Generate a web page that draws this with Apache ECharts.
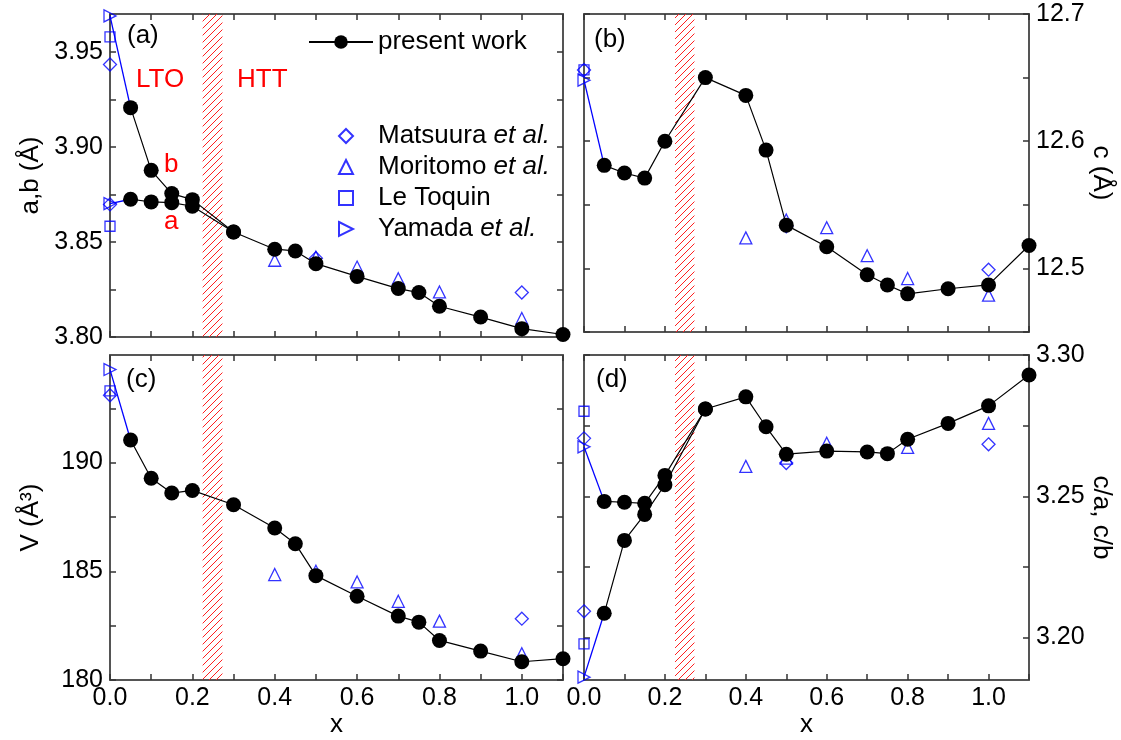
<!DOCTYPE html>
<html><head><meta charset="utf-8">
<script src="https://cdn.jsdelivr.net/npm/echarts@6/dist/echarts.min.js"></script>
<style>html,body{margin:0;padding:0;background:#fff}#c{width:1121px;height:740px}</style>
</head><body><div id="c"></div>
<script>
// ---------- data ----------
const xLTO = [0.05, 0.1, 0.15, 0.2];
const xHTT = [0.3, 0.4, 0.45, 0.5, 0.6, 0.7, 0.75, 0.8, 0.9, 1.0, 1.1];
const xAll = xLTO.concat(xHTT);

// (a) lattice parameters a, b (present work)
const bLTO = [3.9207, 3.8877, 3.8755, 3.8723];
const aLTO = [3.8725, 3.8711, 3.8707, 3.8688];
const abHTT = [3.8553, 3.8462, 3.8453, 3.8386, 3.8319, 3.8255, 3.8234, 3.8162, 3.8105, 3.8044, 3.8013];
// (b) lattice parameter c
const cAll = [12.581, 12.575, 12.571, 12.600, 12.650, 12.636, 12.593, 12.534, 12.517, 12.495, 12.487, 12.480, 12.484, 12.487, 12.518];
// (c) volume
const vAll = [191.04, 189.28, 188.60, 188.72, 188.06, 186.99, 186.27, 184.80, 183.85, 182.94, 182.66, 181.82, 181.33, 180.84, 180.98];
// (d) c/a, c/b
const cbLTO = [3.2482, 3.2479, 3.2475, 3.2574];
const caLTO = [3.2086, 3.2344, 3.2436, 3.2541];
const ratioHTT = [3.2809, 3.2852, 3.2746, 3.2649, 3.2660, 3.2657, 3.2651, 3.2702, 3.2758, 3.2820, 3.2929];

// literature
const matsX4 = [0, 0, 0.5, 1.0];
const matsX3 = [0, 0.5, 1.0];
const matsA = [3.9434, 3.8698, 3.8415, 3.8234];
const matsC = [12.656, 12.533, 12.499];
const matsV = [193.1, 184.8, 182.82];
const matsR = [3.2705, 3.2093, 3.2618, 3.2684];

const moriX = [0.4, 0.5, 0.6, 0.7, 0.8, 1.0];
const moriA = [3.8404, 3.8420, 3.8368, 3.8307, 3.8237, 3.8097];
const moriC = [12.524, 12.538, 12.532, 12.510, 12.492, 12.479];
const moriV = [184.85, 185.0, 184.51, 183.62, 182.71, 181.21];
const moriXd = [0.4, 0.5, 0.6, 0.8, 1.0];
const moriR = [3.2606, 3.2635, 3.2688, 3.2673, 3.2758];

const leToqX2 = [0, 0];
const leToqX1 = [0];
const leToqA = [3.958, 3.8583];
const leToqC = [12.656];
const leToqV = [193.3];
const leToqR = [3.2801, 3.1978];

const yamaX2 = [0, 0];
const yamaX1 = [0];
const yamaA = [3.969, 3.8702];
const yamaC = [12.648];
const yamaV = [194.28];
const yamaR = [3.2675, 3.186];

// ticks
const xTicks = [0, 0.1, 0.2, 0.3, 0.4, 0.5, 0.6, 0.7, 0.8, 0.9, 1.0, 1.1];
const xLabels = [0, 0.2, 0.4, 0.6, 0.8, 1.0];
const aTicks = [3.80, 3.825, 3.85, 3.875, 3.90, 3.925, 3.95];
const aLabels = [3.80, 3.85, 3.90, 3.95];
const cTicks = [12.45, 12.5, 12.55, 12.6, 12.65, 12.7];
const cLabels = [12.5, 12.6, 12.7];
const vTicks = [180, 182.5, 185, 187.5, 190, 192.5];
const vLabels = [180, 185, 190];
const rTicks = [3.20, 3.225, 3.25, 3.275, 3.30];
const rLabels = [3.20, 3.25, 3.30];
const hatchRange = [0.225, 0.273];

// ---------- helpers ----------
const FF = '"Liberation Sans", Arial, Helvetica, sans-serif';
const zip = (xs, ys) => xs.map((x, i) => [x, ys[i]]);
const BLUE = '#0000ff';

function hatchCanvas() {
  const c = document.createElement('canvas');
  c.width = 7; c.height = 7;
  const g = c.getContext('2d');
  g.strokeStyle = '#ff2020'; g.lineWidth = 1.0;
  g.beginPath();
  g.moveTo(0, 7); g.lineTo(7, 0);
  g.moveTo(-1, 1); g.lineTo(1, -1);
  g.moveTo(6, 8); g.lineTo(8, 6);
  g.stroke();
  return c;
}
const HATCH = hatchCanvas();

const grids = [
  {left: 110, top: 14, width: 453, height: 323},
  {left: 584, top: 14, width: 445, height: 318},
  {left: 110, top: 355, width: 453, height: 325},
  {left: 584, top: 355, width: 445, height: 325}
];

const lineC = {show: true, onZero: false, lineStyle: {color: '#555', width: 2}};
function tick(vals) { return {show: true, inside: true, length: 6, customValues: vals, lineStyle: {color: '#333', width: 1.5}}; }

function xAx(gi, pos, labels, name) {
  return {
    type: 'value', gridIndex: gi, position: pos, min: 0, max: 1.1,
    axisLine: lineC, axisTick: tick(xTicks), splitLine: {show: false},
    axisLabel: labels ? {show: true, customValues: xLabels, formatter: v => v.toFixed(1), fontSize: 25, color: '#000', fontFamily: FF, margin: 6} : {show: false},
    name: name || '', nameLocation: 'middle', nameGap: 29,
    nameTextStyle: {fontSize: 26, color: '#000', fontFamily: FF}
  };
}
function yAx(gi, pos, min, max, ticks, labels, dec, name) {
  const o = {
    type: 'value', gridIndex: gi, position: pos, min: min, max: max,
    axisLine: lineC, axisTick: tick(ticks), splitLine: {show: false},
    axisLabel: labels ? {show: true, customValues: labels, formatter: v => v.toFixed(dec), fontSize: 25, color: '#000', fontFamily: FF, margin: 7} : {show: false}
  };
  if (name) {
    o.name = name; o.nameLocation = 'middle';
    o.nameGap = pos === 'left' ? 66 : 56;
    o.nameRotate = pos === 'left' ? 90 : -90;
    o.nameTextStyle = {fontSize: 26, color: '#000', fontFamily: FF};
  }
  return o;
}

const xAxes = [
  xAx(0, 'bottom', false), xAx(0, 'top', false),
  xAx(1, 'bottom', false), xAx(1, 'top', false),
  xAx(2, 'bottom', true, 'x'), xAx(2, 'top', false),
  xAx(3, 'bottom', true, 'x'), xAx(3, 'top', false)
];
const yAxes = [
  yAx(0, 'left', 3.80, 3.97, aTicks, aLabels, 2, 'a,b (Å)'),
  yAx(0, 'right', 3.80, 3.97, aTicks, null, 2),
  yAx(1, 'left', 12.45, 12.70, cTicks, null, 1),
  yAx(1, 'right', 12.45, 12.70, cTicks, cLabels, 1, 'c (Å)'),
  yAx(2, 'left', 180, 194.95, vTicks, vLabels, 0, 'V (Å³)'),
  yAx(2, 'right', 180, 194.95, vTicks, null, 0),
  yAx(3, 'left', 3.185, 3.30, rTicks, null, 2),
  yAx(3, 'right', 3.185, 3.30, rTicks, rLabels, 2, 'c/a, c/b')
];

const series = [];
function scat(p, name, data, symbol, size) {
  series.push({
    type: 'scatter', name: name, xAxisIndex: 2 * p, yAxisIndex: 2 * p, data: data,
    symbol: symbol, symbolSize: size,
    itemStyle: {color: 'rgba(0,0,0,0)', borderColor: BLUE, borderWidth: 1.3},
    silent: true, z: 2
  });
}
function link(p, data) {
  series.push({
    type: 'line', name: 'link', xAxisIndex: 2 * p, yAxisIndex: 2 * p, data: data,
    symbol: 'none', lineStyle: {color: BLUE, width: 1.3}, silent: true, z: 3
  });
}
function present(p, data) {
  series.push({
    type: 'line', name: 'present work', xAxisIndex: 2 * p, yAxisIndex: 2 * p, data: data,
    symbol: 'circle', symbolSize: 15, showSymbol: true,
    lineStyle: {color: '#000', width: 1.2}, itemStyle: {color: '#000'},
    silent: true, z: 4
  });
}
function hatch(p) {
  series.push({
    type: 'line', name: 'hatch', xAxisIndex: 2 * p, yAxisIndex: 2 * p, data: [],
    silent: true, z: 1,
    markArea: {silent: true, itemStyle: {color: {image: HATCH, repeat: 'repeat'}, borderWidth: 0},
      data: [[{xAxis: hatchRange[0]}, {xAxis: hatchRange[1]}]]}
  });
}
const RIGHT_TRI = 'path://M0,0L10,5L0,10Z';

// panel (a)
hatch(0);
scat(0, 'Matsuura et al.', zip(matsX4, matsA), 'diamond', 13);
scat(0, 'Moritomo et al.', zip(moriX, moriA), 'triangle', 12);
scat(0, 'Le Toquin', zip(leToqX2, leToqA), 'rect', 10);
scat(0, 'Yamada et al.', zip(yamaX2, yamaA), RIGHT_TRI, 12);
link(0, [[yamaX2[0], yamaA[0]], [xLTO[0], bLTO[0]]]);
link(0, [[yamaX2[1], yamaA[1]], [xLTO[0], aLTO[0]]]);
present(0, zip(xLTO, bLTO).concat(zip(xHTT, abHTT)));
present(0, zip(xLTO, aLTO).concat([[xHTT[0], abHTT[0]]]));

// panel (b)
hatch(1);
scat(1, 'Matsuura et al.', zip(matsX3, matsC), 'diamond', 13);
scat(1, 'Moritomo et al.', zip(moriX, moriC), 'triangle', 12);
scat(1, 'Le Toquin', zip(leToqX1, leToqC), 'rect', 10);
scat(1, 'Yamada et al.', zip(yamaX1, yamaC), RIGHT_TRI, 12);
link(1, [[yamaX1[0], yamaC[0]], [xAll[0], cAll[0]]]);
present(1, zip(xAll, cAll));

// panel (c)
hatch(2);
scat(2, 'Matsuura et al.', zip(matsX3, matsV), 'diamond', 13);
scat(2, 'Moritomo et al.', zip(moriX, moriV), 'triangle', 12);
scat(2, 'Le Toquin', zip(leToqX1, leToqV), 'rect', 10);
scat(2, 'Yamada et al.', zip(yamaX1, yamaV), RIGHT_TRI, 12);
link(2, [[yamaX1[0], yamaV[0]], [xAll[0], vAll[0]]]);
present(2, zip(xAll, vAll));

// panel (d)
hatch(3);
scat(3, 'Matsuura et al.', zip(matsX4, matsR), 'diamond', 13);
scat(3, 'Moritomo et al.', zip(moriXd, moriR), 'triangle', 12);
scat(3, 'Le Toquin', zip(leToqX2, leToqR), 'rect', 10);
scat(3, 'Yamada et al.', zip(yamaX2, yamaR), RIGHT_TRI, 12);
link(3, [[yamaX2[0], yamaR[0]], [xLTO[0], cbLTO[0]]]);
link(3, [[yamaX2[1], yamaR[1]], [xLTO[0], caLTO[0]]]);
present(3, zip(xLTO, cbLTO).concat(zip(xHTT, ratioHTT)));
present(3, zip(xLTO, caLTO).concat([[xHTT[0], ratioHTT[0]]]));

function legendText(padLeft) {
  return {fontSize: 26, color: '#000', fontFamily: FF, lineHeight: 26, padding: [0, 0, 0, padLeft],
    rich: {i: {fontSize: 26, fontStyle: 'italic', color: '#000', fontFamily: FF}}};
}
const fmt = n => n.replace(' et al.', ' {i|et al.}');

function txt(t, x, y, color, size) {
  return {type: 'text', x: x, y: y, silent: true,
    style: {text: t, fill: color, fontSize: size, fontFamily: FF, align: 'left', verticalAlign: 'middle'}};
}

const option = {
  animation: false,
  backgroundColor: '#fff',
  grid: grids,
  xAxis: xAxes,
  yAxis: yAxes,
  legend: [
    {data: ['present work'], left: 303, top: 24, itemWidth: 64, itemHeight: 17, textStyle: legendText(0), formatter: fmt, selectedMode: false},
    {data: ['Matsuura et al.', 'Moritomo et al.', 'Le Toquin', 'Yamada et al.'], orient: 'vertical', left: 333, top: 118,
      itemWidth: 14, itemHeight: 14, itemGap: 5, textStyle: legendText(20), formatter: fmt, selectedMode: false}
  ],
  graphic: [
    txt('(a)', 127, 36, '#000', 26),
    txt('(b)', 594, 40, '#000', 26),
    txt('(c)', 126, 380, '#000', 26),
    txt('(d)', 596, 380, '#000', 26),
    txt('LTO', 136, 80, '#ff0000', 26),
    txt('HTT', 237, 80, '#ff0000', 26),
    txt('b', 164, 165, '#ff0000', 26),
    txt('a', 164, 222, '#ff0000', 26)
  ],
  series: series
};

const chart = echarts.init(document.getElementById('c'), null, {renderer: 'canvas'});
chart.setOption(option);
</script>
</body></html>
